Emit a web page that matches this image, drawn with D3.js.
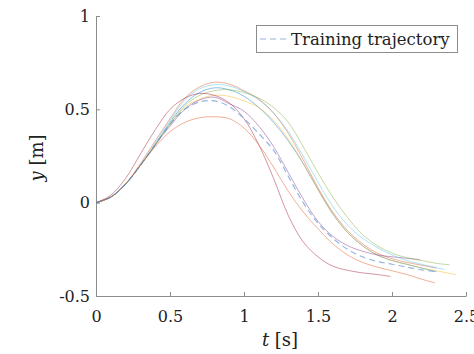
<!DOCTYPE html>
<html>
<head>
<meta charset="utf-8">
<script src="https://cdn.jsdelivr.net/npm/d3@7"></script>
<style>
  body { margin: 0; background: #fff; }
  svg text { font-family: "DejaVu Serif", "Liberation Serif", serif; }
</style>
</head>
<body>
<div id="chart"></div>
<script>
// tick values
var xTicks = [0, 0.5, 1, 1.5, 2, 2.5]
var yTicks = [-0.5, 0, 0.5, 1]

// trajectories, [t, y]
var blueRun = [[0,0],[0.1,0.03],[0.2,0.1],[0.3,0.2],[0.4,0.31],[0.5,0.43],[0.6,0.53],[0.7,0.59],[0.8,0.615],[0.9,0.605],[1.0,0.57],[1.1,0.51],[1.2,0.43],[1.3,0.33],[1.4,0.21],[1.5,0.07],[1.6,-0.06],[1.7,-0.16],[1.8,-0.23],[1.9,-0.28],[2.0,-0.31],[2.1,-0.33],[2.2,-0.35],[2.3,-0.37]]
var salmonTop = [[0,0],[0.1,0.03],[0.2,0.1],[0.3,0.21],[0.4,0.33],[0.5,0.45],[0.6,0.56],[0.7,0.62],[0.8,0.645],[0.9,0.635],[1.0,0.6],[1.1,0.555],[1.2,0.48],[1.3,0.37],[1.4,0.23],[1.5,0.08],[1.6,-0.05],[1.7,-0.15],[1.8,-0.22],[1.9,-0.27],[2.0,-0.3],[2.1,-0.32],[2.2,-0.335],[2.3,-0.35]]
var orangeRun = [[0,0],[0.1,0.03],[0.2,0.1],[0.3,0.2],[0.4,0.31],[0.5,0.42],[0.6,0.51],[0.7,0.555],[0.8,0.575],[0.9,0.57],[1.0,0.545],[1.1,0.51],[1.2,0.44],[1.3,0.34],[1.4,0.21],[1.5,0.07],[1.6,-0.06],[1.7,-0.16],[1.8,-0.23],[1.9,-0.28],[2.0,-0.31],[2.1,-0.33],[2.2,-0.35],[2.3,-0.365],[2.43,-0.385]]
var purpleRun = [[0,0],[0.1,0.03],[0.2,0.1],[0.3,0.2],[0.4,0.31],[0.5,0.41],[0.6,0.5],[0.7,0.55],[0.8,0.565],[0.9,0.53],[1.0,0.49],[1.1,0.41],[1.2,0.3],[1.3,0.16],[1.4,0.02],[1.5,-0.1],[1.6,-0.18],[1.7,-0.23],[1.8,-0.26],[1.9,-0.28],[2.0,-0.29],[2.19,-0.305]]
var greenRun = [[0,0],[0.1,0.03],[0.2,0.1],[0.3,0.2],[0.4,0.31],[0.5,0.42],[0.6,0.52],[0.7,0.575],[0.8,0.6],[0.9,0.605],[1.0,0.59],[1.1,0.56],[1.2,0.51],[1.3,0.43],[1.4,0.3],[1.5,0.16],[1.6,0.03],[1.7,-0.08],[1.8,-0.17],[1.9,-0.23],[2.0,-0.27],[2.1,-0.295],[2.2,-0.31],[2.3,-0.325],[2.39,-0.333]]
var cyanRun = [[0,0],[0.1,0.03],[0.2,0.1],[0.3,0.2],[0.4,0.32],[0.5,0.44],[0.6,0.55],[0.7,0.61],[0.8,0.632],[0.9,0.625],[1.0,0.595],[1.1,0.55],[1.2,0.48],[1.3,0.38],[1.4,0.25],[1.5,0.11],[1.6,-0.02],[1.7,-0.12],[1.8,-0.19],[1.9,-0.24],[2.0,-0.28],[2.1,-0.31],[2.2,-0.33],[2.355,-0.358]]
var crimsonRun = [[0,0],[0.1,0.04],[0.2,0.13],[0.3,0.26],[0.4,0.39],[0.5,0.5],[0.6,0.56],[0.7,0.585],[0.8,0.575],[0.9,0.535],[1.0,0.45],[1.1,0.31],[1.2,0.13],[1.3,-0.07],[1.4,-0.21],[1.5,-0.29],[1.6,-0.34],[1.75,-0.37],[1.9,-0.385],[1.99,-0.395]]
var salmonLow = [[0,0],[0.1,0.03],[0.2,0.1],[0.3,0.2],[0.4,0.3],[0.5,0.38],[0.6,0.43],[0.7,0.455],[0.8,0.46],[0.9,0.45],[1.0,0.4],[1.1,0.31],[1.2,0.19],[1.3,0.06],[1.4,-0.05],[1.5,-0.14],[1.6,-0.22],[1.7,-0.28],[1.8,-0.32],[1.9,-0.345],[2.0,-0.365],[2.1,-0.385],[2.2,-0.41],[2.29,-0.43]]
var training = [[0,0],[0.1,0.03],[0.2,0.1],[0.3,0.2],[0.4,0.31],[0.5,0.42],[0.6,0.5],[0.7,0.54],[0.8,0.545],[0.9,0.515],[1.0,0.45],[1.1,0.37],[1.2,0.28],[1.3,0.14],[1.4,0.0],[1.5,-0.11],[1.6,-0.19],[1.7,-0.25],[1.8,-0.29],[1.9,-0.315],[2.0,-0.33],[2.1,-0.345],[2.2,-0.36],[2.3,-0.37]]

var runs = [
  {pts: blueRun,    color: "#0072BD"},
  {pts: salmonTop,  color: "#D95319"},
  {pts: orangeRun,  color: "#EDB120"},
  {pts: purpleRun,  color: "#7E2F8E"},
  {pts: greenRun,   color: "#77AC30"},
  {pts: cyanRun,    color: "#4DBEEE"},
  {pts: crimsonRun, color: "#A2142F"},
  {pts: salmonLow,  color: "#D95319"}
]

var W = 474, H = 354

var svg = d3.select("#chart")
      .append("svg")
      .attr("width", W)
      .attr("height", H)

var x = d3.scaleLinear().domain([0, 2.5]).range([96, 466])
var y = d3.scaleLinear().domain([-0.5, 1]).range([296, 16])

var fmt = function(d){ return d < 0 ? "-" + Math.abs(d) : "" + d }

// axes, ticks point inward
var gx = svg.append("g")
    .attr("transform", "translate(0," + y(-0.5) + ")")
    .call(d3.axisBottom(x).tickValues(xTicks).tickSizeInner(-4).tickSizeOuter(0).tickFormat(fmt))
var gy = svg.append("g")
    .attr("transform", "translate(" + x(0) + ",0)")
    .call(d3.axisLeft(y).tickValues(yTicks).tickSizeInner(-4).tickSizeOuter(0).tickFormat(fmt))

gx.attr("font-size", 16)
gy.attr("font-size", 16)
svg.selectAll(".domain, .tick line").attr("stroke", "#8c8c8c")
gx.selectAll("text").attr("y", 26).attr("dy", 0).attr("fill", "#222")
gy.selectAll("text").attr("x", -6).attr("fill", "#222")

var line = d3.line()
    .x(function(d){ return x(d[0]) })
    .y(function(d){ return y(d[1]) })
    .curve(d3.curveCatmullRom)

svg.selectAll(".run")
   .data(runs)
   .enter()
   .append("path")
   .attr("class", "run")
   .attr("d", function(d){ return line(d.pts) })
   .attr("fill", "none")
   .attr("stroke", function(d){ return d.color })
   .attr("stroke-opacity", 0.45)
   .attr("stroke-width", 1)

svg.append("path")
   .attr("d", line(training))
   .attr("fill", "none")
   .attr("stroke", "#5b8fd0")
   .attr("stroke-opacity", 0.65)
   .attr("stroke-width", 1.2)
   .attr("stroke-dasharray", "6,4")

// axis labels
svg.append("text")
   .attr("transform", "translate(43,158) rotate(-90)")
   .attr("text-anchor", "middle")
   .attr("font-size", 18)
   .attr("fill", "#222")
   .html('<tspan font-style="italic">y</tspan> [m]')

svg.append("text")
   .attr("x", 280)
   .attr("y", 346)
   .attr("text-anchor", "middle")
   .attr("font-size", 18)
   .attr("fill", "#222")
   .html('<tspan font-style="italic">t</tspan> [s]')

// legend
var lg = svg.append("g")
lg.append("rect")
  .attr("x", 256.5).attr("y", 25.5)
  .attr("width", 201).attr("height", 27)
  .attr("fill", "#fff")
  .attr("stroke", "#8c8c8c")
lg.append("line")
  .attr("x1", 260).attr("x2", 286)
  .attr("y1", 39).attr("y2", 39)
  .attr("stroke", "#5b8fd0")
  .attr("stroke-opacity", 0.65)
  .attr("stroke-width", 1.2)
  .attr("stroke-dasharray", "6,4")
lg.append("text")
  .attr("x", 291)
  .attr("y", 44.5)
  .attr("font-size", 16.5)
  .attr("fill", "#222")
  .text("Training trajectory")
</script>
</body>
</html>
